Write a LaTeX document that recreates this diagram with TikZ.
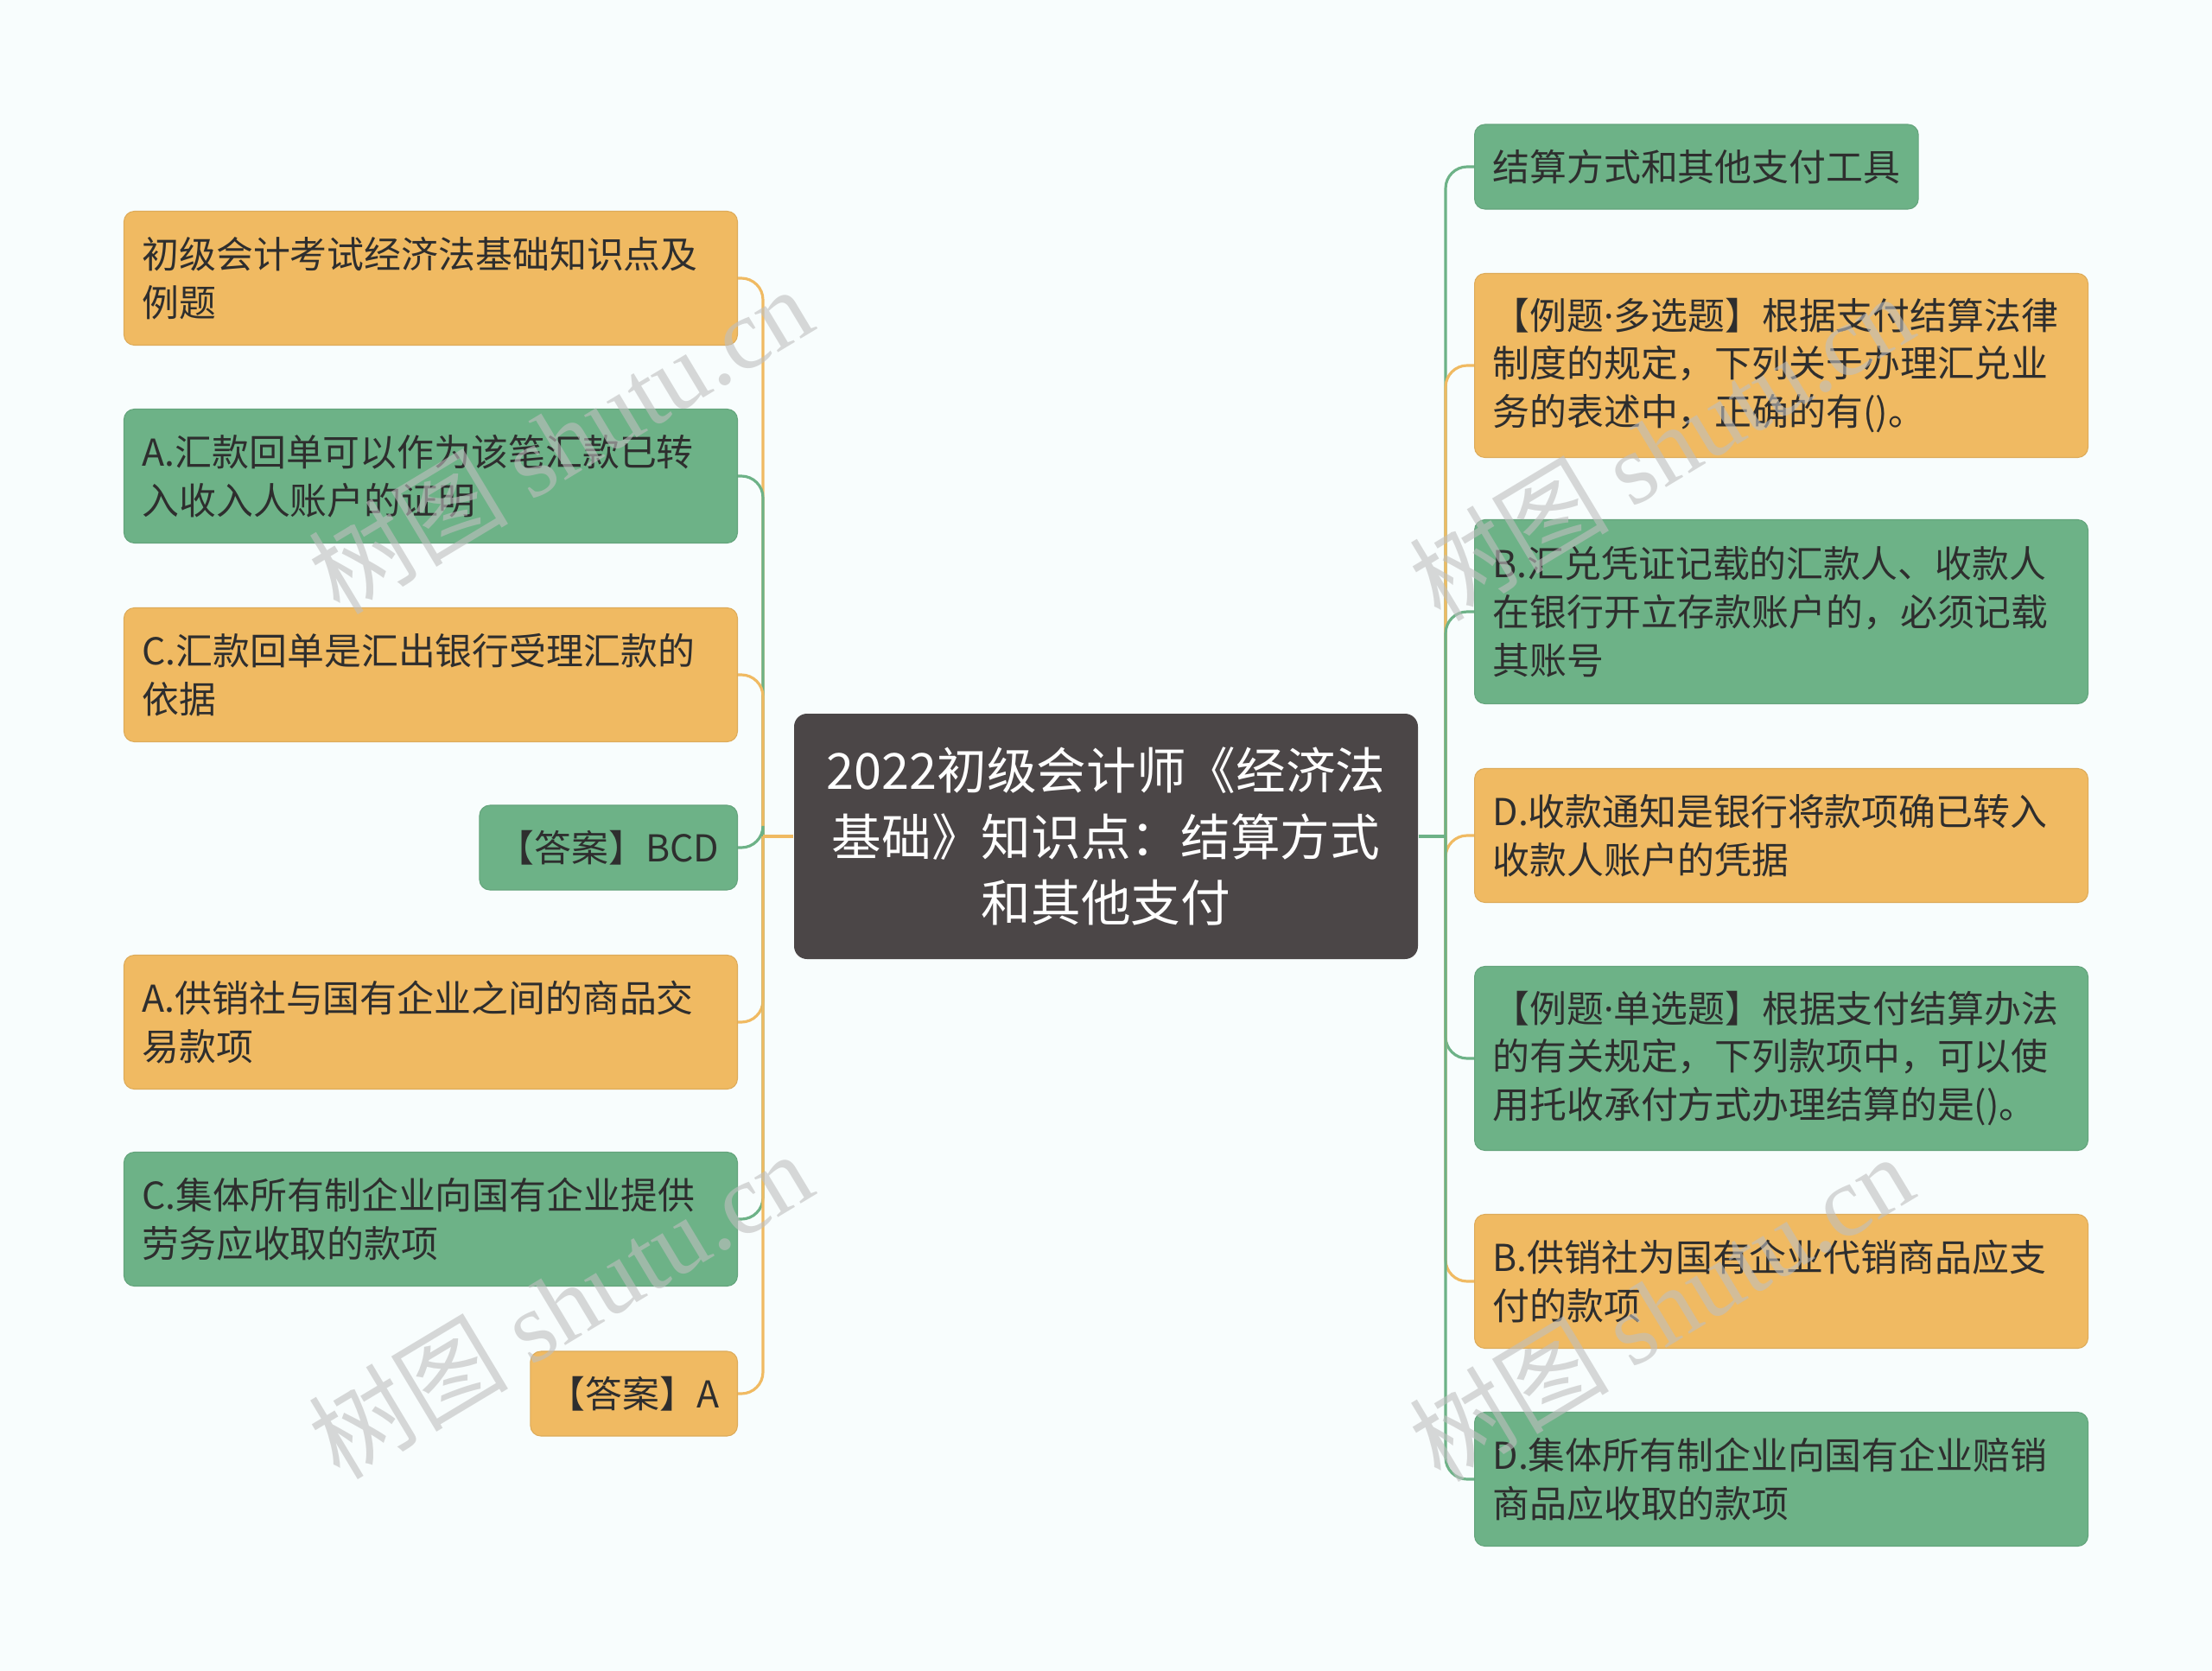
\documentclass[tikz,border=0pt]{standalone}
\usepackage{fontspec}
\setmainfont{Noto Sans CJK SC}
\newfontfamily\wmlatin{Liberation Serif}
\newfontfamily\dotfont{Noto Sans}
\usepackage{xcolor}
\definecolor{bgcol}{HTML}{F8FDFD}
\definecolor{orn}{HTML}{F0BA62}
\definecolor{grn}{HTML}{6DB287}
\definecolor{rootcol}{HTML}{4B4647}
\definecolor{txtcol}{HTML}{2E2E2E}
\newcommand{\mdot}{{\dotfont ·}}

\begin{document}
\begin{tikzpicture}[%
% common options for the leaf boxes:
leaf/.style = {rectangle, rounded corners=1.2mm, inner xsep=2.1mm, inner ysep=0,
            align=left, text=txtcol, font=\fontsize{12.2pt}{15.9pt}\selectfont},
wide/.style = {leaf, text width=66.8mm},
obox/.style = {fill=orn, draw=orn!92!black, line width=0.3pt},
gbox/.style = {fill=grn, draw=grn!92!black, line width=0.3pt},
h1/.style = {minimum height=9.8mm},
h2/.style = {minimum height=15.5mm},
h3/.style = {minimum height=21.3mm},
% the centre box:
root/.style = {rectangle, rounded corners=1.5mm, fill=rootcol, text=white,
            align=center, minimum width=72.2mm, minimum height=28.4mm,
            font=\fontsize{16.4pt}{21.8pt}\selectfont},
% connectors:
link/.style = {line width=0.9pt, rounded corners=2.5mm},
wmark/.style = {text=gray!50, opacity=0.6, rotate=31,
            font=\fontsize{33pt}{33pt}\selectfont}]
\fill[bgcol] (0,0) rectangle (25.6,-19.34);
\useasboundingbox (0,0) rectangle (25.6,-19.34);

\node[root] (C) at (12.80,-9.68) {2022初级会计师《经济法\\基础》知识点：结算方式\\和其他支付};

% left side
\node[wide,obox,h2,anchor=east] (L1) at (8.54,-3.22) {初级会计考试经济法基础知识点及\\例题};
\node[wide,gbox,h2,anchor=east] (L2) at (8.54,-5.51) {A.汇款回单可以作为该笔汇款已转\\入收入人账户的证明};
\node[wide,obox,h2,anchor=east] (L3) at (8.54,-7.81) {C.汇款回单是汇出银行受理汇款的\\依据};
\node[leaf,gbox,h1,anchor=east] (L4) at (8.54,-9.81) {【答案】BCD};
\node[wide,obox,h2,anchor=east] (L5) at (8.54,-11.83) {A.供销社与国有企业之间的商品交\\易款项};
\node[wide,gbox,h2,anchor=east] (L6) at (8.54,-14.11) {C.集体所有制企业向国有企业提供\\劳务应收取的款项};
\node[leaf,obox,h1,anchor=east] (L7) at (8.54,-16.13) {【答案】A};

% right side
\node[leaf,gbox,h1,anchor=west] (R1) at (17.06,-1.93) {结算方式和其他支付工具};
\node[wide,obox,h3,anchor=west] (R2) at (17.06,-4.23) {【例题\mdot 多选题】根据支付结算法律\\制度的规定，下列关于办理汇兑业\\务的表述中，正确的有()。};
\node[wide,gbox,h3,anchor=west] (R3) at (17.06,-7.08) {B.汇兑凭证记载的汇款人、收款人\\在银行开立存款账户的，必须记载\\其账号};
\node[wide,obox,h2,anchor=west] (R4) at (17.06,-9.67) {D.收款通知是银行将款项确已转入\\收款人账户的凭据};
\node[wide,gbox,h3,anchor=west] (R5) at (17.06,-12.25) {【例题\mdot 单选题】根据支付结算办法\\的有关规定，下列款项中，可以使\\用托收承付方式办理结算的是()。};
\node[wide,obox,h2,anchor=west] (R6) at (17.06,-14.83) {B.供销社为国有企业代销商品应支\\付的款项};
\node[wide,gbox,h2,anchor=west] (R7) at (17.06,-17.12) {D.集体所有制企业向国有企业赔销\\商品应收取的款项};

\coordinate (lj) at (8.83,-9.68);
\coordinate (rj) at (16.73,-9.68);

\draw[link,orn] (lj) |- (L1.east);
\draw[link,grn] (lj) |- (L2.east);
\draw[link,orn] (lj) |- (L3.east);
\draw[link,grn] (lj) |- (L4.east);
\draw[link,orn] (lj) |- (L5.east);
\draw[link,grn] (lj) |- (L6.east);
\draw[link,orn] (lj) |- (L7.east);
\draw[link,orn] (C.west) -- (lj);

\draw[link,grn] (rj) |- (R1.west);
\draw[link,orn] (rj) |- (R2.west);
\draw[link,grn] (rj) |- (R3.west);
\draw[link,orn] (rj) |- (R4.west);
\draw[link,grn] (rj) |- (R5.west);
\draw[link,orn] (rj) |- (R6.west);
\draw[link,grn] (rj) |- (R7.west);
\draw[link,grn] (C.east) -- (rj);

% watermarks
\node[wmark] (W1) at (6.48,-5.09) {树图 {\wmlatin shutu.cn}};
\node[wmark] (W2) at (19.22,-5.17) {树图 {\wmlatin shutu.cn}};
\node[wmark] (W3) at (6.48,-15.10) {树图 {\wmlatin shutu.cn}};
\node[wmark] (W4) at (19.22,-15.13) {树图 {\wmlatin shutu.cn}};
\end{tikzpicture}
\end{document}
